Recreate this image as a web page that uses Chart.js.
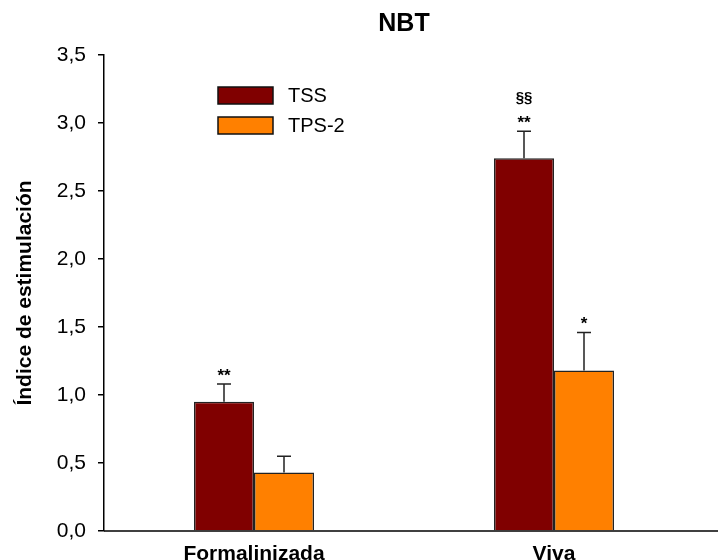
<!DOCTYPE html>
<html>
<head>
<meta charset="utf-8">
<script src="https://cdn.jsdelivr.net/npm/chart.js@4/dist/chart.umd.min.js"></script>
<style>
  html, body { margin: 0; padding: 0; background: #fff; }
  #wrap { width: 718px; height: 560px; }
</style>
</head>
<body>
<div id="wrap"><canvas id="myChart" width="718" height="560"></canvas></div>
<script>
// data
const chartTitle = 'NBT';
const yTitle = 'Índice de estimulación';
const categories = ['Formalinizada', 'Viva'];
const seriesNames = ['TSS', 'TPS-2'];
const tssValues = [0.95, 2.74];
const tssErrors = [0.13, 0.20];
const tps2Values = [0.43, 1.18];
const tps2Errors = [0.12, 0.28];
// significance marks above each error bar, bottom to top
const tssMarks = [['**'], ['**', '§§']];
const tps2Marks = [[], ['*']];
const yTicks = [0, 0.5, 1, 1.5, 2, 2.5, 3, 3.5];

const errorSets = [tssErrors, tps2Errors];
const markSets = [tssMarks, tps2Marks];

Chart.defaults.font.family = '"Liberation Sans", Arial, sans-serif';
Chart.defaults.color = '#000';

var extras = {
  id: 'extras',
  afterDatasetsDraw: function (chart) {
    var ctx = chart.ctx;
    var y = chart.scales.y;
    var area = chart.chartArea;
    ctx.save();

    // x axis line, runs on to the right edge
    ctx.strokeStyle = '#000';
    ctx.lineWidth = 1.5;
    ctx.beginPath();
    ctx.moveTo(area.left, area.bottom);
    ctx.lineTo(chart.width, area.bottom);
    ctx.stroke();

    // error bars + marks
    chart.data.datasets.forEach(function (ds, di) {
      var meta = chart.getDatasetMeta(di);
      meta.data.forEach(function (bar, i) {
        var top = y.getPixelForValue(ds.data[i] + errorSets[di][i]);
        var x = bar.x;
        ctx.strokeStyle = '#222';
        ctx.lineWidth = 1.5;
        ctx.beginPath();
        ctx.moveTo(x, bar.y);
        ctx.lineTo(x, top);
        ctx.moveTo(x - 7, top);
        ctx.lineTo(x + 7, top);
        ctx.stroke();

        var by = top - 3;
        ctx.fillStyle = '#000';
        ctx.textAlign = 'center';
        ctx.textBaseline = 'alphabetic';
        markSets[di][i].forEach(function (m, k) {
          if (k > 0) by -= 26;
          ctx.font = (m === '§§' ? 'bold 15px' : 'bold 17px') + ' "Liberation Sans", Arial, sans-serif';
          ctx.fillText(m, x, by);
        });
      });
    });

    // title
    ctx.fillStyle = '#000';
    ctx.font = 'bold 25px "Liberation Sans", Arial, sans-serif';
    ctx.textAlign = 'center';
    ctx.textBaseline = 'middle';
    ctx.fillText(chartTitle, (area.left + area.right) / 2, 24);

    // legend
    ctx.font = '20px "Liberation Sans", Arial, sans-serif';
    ctx.textAlign = 'left';
    chart.data.datasets.forEach(function (ds, di) {
      var ly = 87 + di * 30;
      ctx.fillStyle = ds.backgroundColor;
      ctx.fillRect(218, ly, 55, 17);
      ctx.strokeStyle = '#111';
      ctx.lineWidth = 1.5;
      ctx.strokeRect(218, ly, 55, 17);
      ctx.fillStyle = '#000';
      ctx.fillText(ds.label, 288, ly + 9);
    });
    ctx.restore();
  }
};

var ctx = document.getElementById('myChart').getContext('2d');
var myChart = new Chart(ctx, {
  type: 'bar',
  data: {
    labels: categories,
    datasets: [{
      label: seriesNames[0],
      data: tssValues,
      backgroundColor: '#800000',
      borderColor: '#222',
      borderWidth: 1.5,
      categoryPercentage: 0.4,
      barPercentage: 1
    }, {
      label: seriesNames[1],
      data: tps2Values,
      backgroundColor: '#ff8000',
      borderColor: '#222',
      borderWidth: 1.5,
      categoryPercentage: 0.4,
      barPercentage: 1
    }]
  },
  options: {
    responsive: false,
    animation: false,
    devicePixelRatio: 1,
    layout: { padding: { top: 55, right: 14, left: 0, bottom: 0 } },
    plugins: {
      legend: { display: false },
      title: { display: false },
      tooltip: { enabled: false }
    },
    scales: {
      x: {
        grid: { display: false },
        border: { display: false },
        ticks: {
          padding: 3,
          font: { size: 21, weight: 'bold' },
          color: '#000'
        },
        afterFit: function (scale) { scale.height = 29; }
      },
      y: {
        min: 0,
        max: 3.5,
        afterBuildTicks: function (scale) {
          scale.ticks = yTicks.map(function (v) { return { value: v }; });
        },
        grid: {
          drawOnChartArea: false,
          drawTicks: true,
          tickLength: 6,
          color: '#000',
          lineWidth: 1.5
        },
        border: { display: true, color: '#000', width: 1.5 },
        ticks: {
          padding: 12,
          font: { size: 21 },
          color: '#000',
          callback: function (v) { return v.toFixed(1).replace('.', ','); }
        },
        title: {
          display: true,
          text: yTitle,
          font: { size: 21, weight: 'bold' },
          color: '#000',
          padding: { top: 13, bottom: 0 }
        },
        afterFit: function (scale) { scale.width = 104; }
      }
    }
  },
  plugins: [extras]
});
</script>
</body>
</html>
